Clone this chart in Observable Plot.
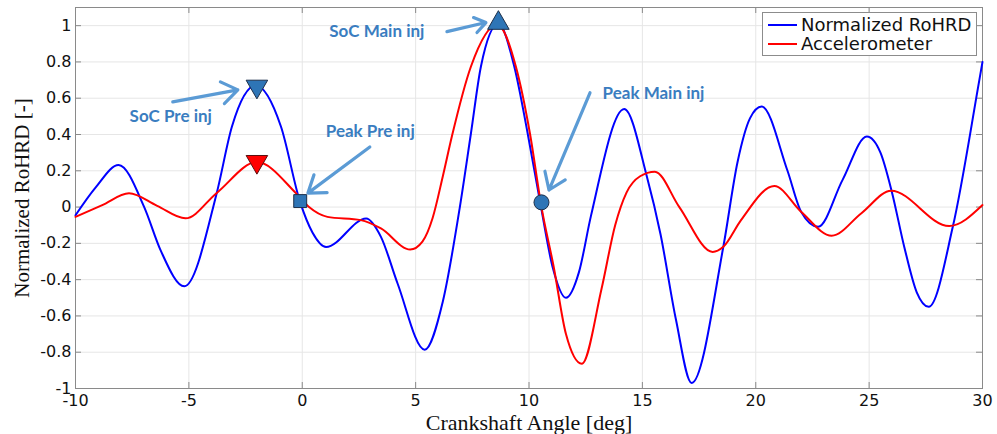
<!DOCTYPE html>
<html>
<head>
<meta charset="utf-8">
<script src="https://cdn.jsdelivr.net/npm/d3@7"></script>
<script src="https://cdn.jsdelivr.net/npm/@observablehq/plot@0.6"></script>
<style>
  body { margin: 0; background: #fff; }
  #wrap { position: relative; width: 997px; height: 434px; }
  #legend { position: absolute; left: 762px; top: 12px; width: 213px; height: 42px;
            border: 1px solid #8c8c8c; background: #fff; font-family: "DejaVu Sans"; font-size: 18px; color: #111; }
  .item { position: absolute; left: 5px; height: 20px; line-height: 20px; white-space: nowrap; }
  .sw { display: inline-block; width: 29px; height: 2px; vertical-align: middle; margin-right: 4px; position: relative; top: -1px; }
</style>
</head>
<body>
<div id="wrap">
  <div id="chart"></div>
  <div id="legend">
    <div class="item" style="top:2px"><span class="sw" style="background:#0000ff"></span>Normalized RoHRD</div>
    <div class="item" style="top:21px"><span class="sw" style="background:#ff0000"></span>Accelerometer</div>
  </div>
</div>
<script>
// ---- Data ----
const xTicks = [-10, -5, 0, 5, 10, 15, 20, 25, 30];
const yTicks = [-1, -0.8, -0.6, -0.4, -0.2, 0, 0.2, 0.4, 0.6, 0.8, 1];
const yTickLabels = ["-1", "-0.8", "-0.6", "-0.4", "-0.2", "0", "0.2", "0.4", "0.6", "0.8", "1"];

// Normalized RoHRD (blue)
const rohrdAngle = [-10, -9.1, -8.1, -6.97, -6.24, -5.2, -3.77, -3.1, -2.05, -0.94, -0.1, 0.45, 1.05,
  2.82, 3.47, 4.2, 5.4, 6.2, 6.95, 7.44, 7.88, 8.65, 9.35, 9.94, 10.5, 11.04, 11.63, 12.2, 12.73,
  14.2, 15.2, 15.8, 16.48, 17.17, 18.57, 19.2, 19.75, 20.26, 21.4, 22.0, 22.75, 23.83, 24.9, 25.5, 26.0, 26.55,
  27.1, 27.63, 28.69, 29.86, 30];
const rohrdValue = [-0.045, 0.11, 0.232, 0.0, -0.24, -0.437, 0.078, 0.444, 0.67, 0.444, 0.03, -0.14, -0.22,
  -0.063, -0.164, -0.42, -0.786, -0.52, 0.0, 0.407, 0.775, 1.01, 0.775, 0.407, 0.02, -0.33, -0.5, -0.36, -0.05,
  0.54, 0.167, -0.15, -0.62, -0.97, -0.219, 0.25, 0.49, 0.554, 0.2, -0.026, -0.109, 0.15, 0.389, 0.3, 0.085, -0.22,
  -0.47, -0.55, -0.109, 0.70, 0.80];

// Accelerometer (red)
const accelAngle = [-10, -8.82, -7.64, -6.4, -5.15, -3.77, -2.0, -0.28, 0.3, 1.11, 2.58, 3.47, 4.76, 5.3, 5.75,
  6.2, 6.6, 7.44, 8.6, 9.42, 10.04, 10.55, 11.09, 11.63, 12.33, 13.2, 13.8, 14.3, 14.9, 15.55, 16.63, 18.1, 18.57, 19.35,
  20.82, 22.0, 23.35, 24.66, 25.97, 28.53, 30];
const accelValue = [-0.054, 0.011, 0.076, 0.007, -0.062, 0.078, 0.248, 0.077, 0.0, -0.054, -0.072, -0.118, -0.234, -0.19, -0.06,
  0.17, 0.39, 0.775, 1.005, 0.775, 0.407, 0.0, -0.33, -0.70, -0.864, -0.45, -0.1, 0.08, 0.17, 0.195, 0.0, -0.247, -0.219, -0.072,
  0.116, -0.026, -0.158, -0.034, 0.09, -0.105, 0.011];

// Event markers
const markerName = ["SoC Pre inj RoHRD", "SoC Pre inj Accel", "Peak Pre inj", "SoC Main inj", "Peak Main inj"];
const markerAngle = [-2.0, -2.0, -0.09, 8.65, 10.55];
const markerValue = [0.665, 0.25, 0.033, 1.014, 0.026];

// Annotations (label anchor and arrow in data units)
const annoText = ["SoC Pre inj", "Peak Pre inj", "SoC Main inj", "Peak Main inj"];
const annoAngle = [-5.8, 3.0, 3.29, 15.49];
const annoValue = [0.497, 0.414, 0.967, 0.624];
const arrowAngle1 = [-5.71, 2.98, 6.38, 12.69];
const arrowValue1 = [0.58, 0.331, 0.967, 0.63];
const arrowAngle2 = [-2.84, 0.25, 8.10, 10.88];
const arrowValue2 = [0.646, 0.077, 1.017, 0.094];

// ---- Build tables ----
const rohrd = rohrdAngle.map((a, i) => ({a, v: rohrdValue[i]}));
const accel = accelAngle.map((a, i) => ({a, v: accelValue[i]}));
const markers = markerName.map((n, i) => ({n, a: markerAngle[i], v: markerValue[i]}));
const annos = annoText.map((t, i) => ({t, a: annoAngle[i], v: annoValue[i],
  a1: arrowAngle1[i], v1: arrowValue1[i], a2: arrowAngle2[i], v2: arrowValue2[i]}));

const W = 997, H = 434, mL = 75, mR = 15, mT = 7, mB = 46;
const innerW = W - mL - mR, innerH = H - mT - mB;
const tickLen = 6;
const axisGray = "#8a8a8a";
const markFill = "#2e75b6", markStroke = "#1c2f4a";

const chart = Plot.plot({
  width: W, height: H,
  marginLeft: mL, marginRight: mR, marginTop: mT, marginBottom: mB,
  x: {domain: [-10, 30]},
  y: {domain: [-1, 1.1]},
  style: {background: "#fff"},
  marks: [
    Plot.gridX(xTicks, {stroke: "#e6e6e6", strokeOpacity: 1}),
    Plot.gridY(yTicks, {stroke: "#e6e6e6", strokeOpacity: 1}),
    Plot.frame({stroke: axisGray}),
    // inward ticks on all four sides
    Plot.tickX(xTicks, {x: d => d, stroke: axisGray, insetTop: innerH - tickLen}),
    Plot.tickX(xTicks, {x: d => d, stroke: axisGray, insetBottom: innerH - tickLen}),
    Plot.tickY(yTicks, {y: d => d, stroke: axisGray, insetRight: innerW - tickLen}),
    Plot.tickY(yTicks, {y: d => d, stroke: axisGray, insetLeft: innerW - tickLen}),
    Plot.axisX(xTicks, {tickSize: 0, tickPadding: 6, fontSize: 16, fontFamily: "DejaVu Sans", fill: "#111",
      tickFormat: d => String(d), label: null}),
    Plot.axisY(yTicks, {tickSize: 0, tickPadding: 4, fontSize: 16, fontFamily: "DejaVu Sans", fill: "#111",
      tickFormat: (d) => yTickLabels[yTicks.indexOf(d)], label: null}),
    Plot.text(["Crankshaft Angle [deg]"], {frameAnchor: "bottom", dy: 34, text: d => d,
      fontFamily: "Liberation Serif", fontSize: 22, fill: "#111", lineAnchor: "middle", textAnchor: "middle"}),
    Plot.text(["Normalized RoHRD [-]"], {frameAnchor: "left", dx: -53, rotate: -90, text: d => d,
      fontFamily: "Liberation Serif", fontSize: 21, fill: "#111", textAnchor: "middle", lineAnchor: "middle"}),
    // curves
    Plot.line(rohrd, {x: "a", y: "v", curve: "monotone-x", stroke: "#0000ff", strokeWidth: 2}),
    Plot.line(accel, {x: "a", y: "v", curve: "monotone-x", stroke: "#ff0000", strokeWidth: 2}),
    // markers
    Plot.dot(markers.filter(d => d.n === "SoC Pre inj RoHRD"), {x: "a", y: "v", symbol: "triangle", rotate: 180, r: 8,
      fill: markFill, stroke: markStroke, strokeWidth: 1}),
    Plot.dot(markers.filter(d => d.n === "SoC Pre inj Accel"), {x: "a", y: "v", symbol: "triangle", rotate: 180, r: 8,
      fill: "#ff0000", stroke: "#5a1010", strokeWidth: 1}),
    Plot.dot(markers.filter(d => d.n === "Peak Pre inj"), {x: "a", y: "v", symbol: "square", r: 7.3,
      fill: markFill, stroke: markStroke, strokeWidth: 1}),
    Plot.dot(markers.filter(d => d.n === "SoC Main inj"), {x: "a", y: "v", symbol: "triangle", r: 8,
      fill: markFill, stroke: markStroke, strokeWidth: 1}),
    Plot.dot(markers.filter(d => d.n === "Peak Main inj"), {x: "a", y: "v", symbol: "circle", r: 7.5,
      fill: markFill, stroke: markStroke, strokeWidth: 1}),
    // annotation arrows and labels
    Plot.arrow(annos, {x1: "a1", y1: "v1", x2: "a2", y2: "v2", stroke: "#5b9bd5", strokeWidth: 3.2,
      headLength: 9, headAngle: 70}),
    Plot.text(annos, {x: "a", y: "v", text: "t", fill: "#3a7dc0", fontFamily: "Lato", fontWeight: "bold",
      fontSize: 17})
  ]
});
document.getElementById("chart").appendChild(chart);
</script>
</body>
</html>
